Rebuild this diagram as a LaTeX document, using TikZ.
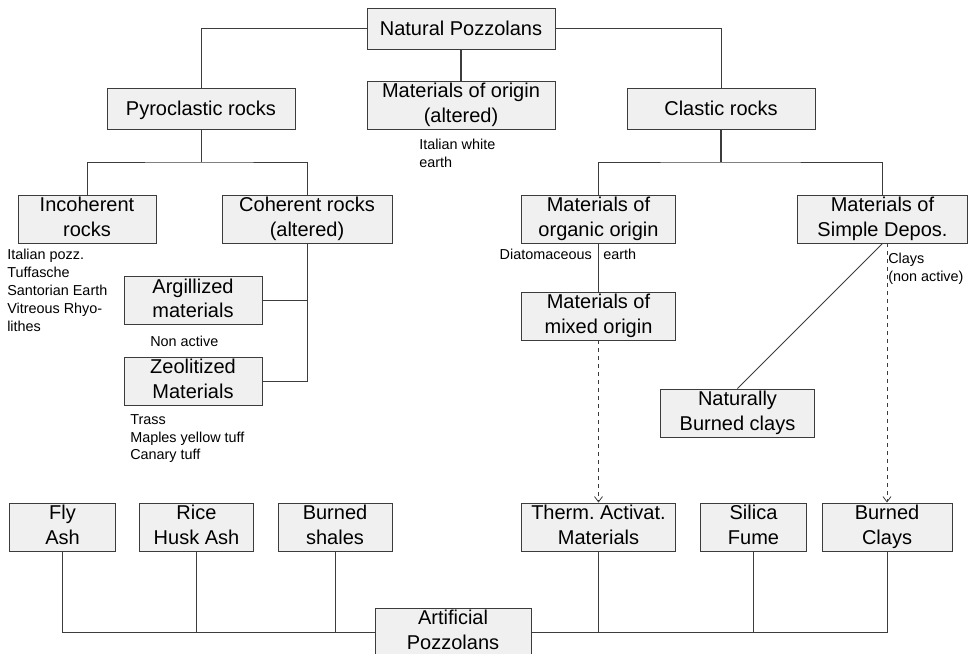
\documentclass[tikz,border=0pt]{standalone}
\usepackage{fontspec}
\setmainfont{Liberation Sans}
\usetikzlibrary{arrows.meta, positioning}
\definecolor{box-gray}{HTML}{F0F0F0}
\definecolor{line-gray}{HTML}{3C3C3C}
\frenchspacing

\begin{document}
\begin{tikzpicture}[
    x=0.75pt, y=-0.75pt,
    box/.style={draw=line-gray, line width=0.7pt, fill=box-gray, align=center, inner sep=0pt,
        minimum height=36pt, font=\fontsize{15}{18.3}\selectfont,
        execute at begin node={\rule{0pt}{14.2pt}}, execute at end node={\rule[-3.3pt]{0pt}{3.3pt}}},
    note/.style={align=left, inner sep=0pt, font=\fontsize{10.8}{13.4}\selectfont},
    link/.style={line-gray, line width=0.7pt},
    trunk/.style={line-gray, line width=1.3pt},
    dasharrow/.style={line-gray, line width=0.6pt, dashed, -{Straight Barb[length=4pt, width=6pt]}}
]
    \useasboundingbox (0,0) rectangle (969,653);

    % natural pozzolans
    \node[box, minimum width=141pt, minimum height=30.75pt] (nat) at (461,28.5) {Natural Pozzolans};
    \node[box, minimum width=141pt, minimum height=30.75pt] (pyro) at (201,108.5) {Pyroclastic rocks};
    \node[box, minimum width=141pt] (orig) at (461,105) {Materials of origin\\(altered)};
    \node[box, minimum width=141pt, minimum height=30.75pt] (clas) at (721,108.5) {Clastic rocks};
    \node[note, anchor=north west] (origtxt) at (419,139) {Italian white\\earth};

    \node[box, minimum width=103.5pt] (incoh) at (87,219) {Incoherent\\rocks};
    \node[box, minimum width=127.5pt] (coh) at (307,219) {Coherent rocks\\(altered)};
    \node[box, minimum width=103.5pt] (argil) at (193,300.5) {Argillized\\materials};
    \node[box, minimum width=103.5pt] (zeo) at (193,381) {Zeolitized\\Materials};
    \node[note, anchor=north west] (incohtxt) at (7,249) {Italian pozz.\\Tuffasche\\Santorian Earth\\Vitreous Rhyo-\\lithes};
    \node[note, anchor=west] (argiltxt) at (150,341) {Non active};
    \node[note, anchor=north west] (zeotxt) at (130,414) {Trass\\Maples yellow tuff\\Canary tuff};

    \node[box, minimum width=116pt] (organic) at (598.5,219) {Materials of\\organic origin};
    \node[box, minimum width=116pt] (mixed) at (598.5,316) {Materials of\\mixed origin};
    \node[box, minimum width=128pt] (simple) at (882.5,219) {Materials of\\Simple Depos.};
    \node[box, minimum width=116pt] (natburn) at (737.5,413) {Naturally\\Burned clays};
    \node[note, anchor=east] (diat) at (592,254) {Diatomaceous};
    \node[note, anchor=west] (diat2) at (603,254) {earth};
    \node[note, anchor=north west] (claytxt) at (888,253) {Clays\\(non active)};

    % artificial pozzolans
    \node[box, minimum width=80pt] (fly) at (62.5,527) {Fly\\Ash};
    \node[box, minimum width=86pt] (rice) at (196.5,527) {Rice\\Husk Ash};
    \node[box, minimum width=85.5pt] (shales) at (335,527) {Burned\\shales};
    \node[box, minimum width=116pt] (therm) at (598.5,527) {Therm. Activat.\\Materials};
    \node[box, minimum width=79pt] (silica) at (753.5,527) {Silica\\Fume};
    \node[box, minimum width=97.5pt] (bclays) at (887,527) {Burned\\Clays};
    \node[box, minimum width=117pt] (art) at (453,632) {Artificial\\Pozzolans};

    \coordinate (pyrobus) at (201,162);
    \coordinate (clasbus) at (721,162);

    % tree links
    \draw[link] (nat.west) -| (pyro.north);
    \draw[link] (nat.east) -| (clas.north);
    \draw[trunk] (nat) -- (orig);
    \draw[link] (pyro) -- (pyrobus);
    \draw[link] (incoh.north) |- (pyrobus) -| (coh.north);
    \draw[link] (coh.south) |- (zeo.east);
    \draw[link] (argil.east) -| (coh.south);
    \draw[trunk] (clas) -- (clasbus);
    \draw[link] (organic.north) |- (clasbus) -| (simple.north);
    \draw[trunk] (organic) -- (mixed);
    \draw[link] (simple.south) -- (natburn.north);
    \draw[dasharrow] (mixed) -- (therm);
    \draw[dasharrow] (bclays.north |- simple.south) -- (bclays.north);

    % bus to artificial pozzolans
    \draw[link] (fly.south) |- (art.west);
    \draw[link] (rice.south) -- (rice.south |- art.west);
    \draw[link] (shales.south) -- (shales.south |- art.west);
    \draw[link] (bclays.south) |- (art.east);
    \draw[link] (therm.south) -- (therm.south |- art.east);
    \draw[link] (silica.south) -- (silica.south |- art.east);
\end{tikzpicture}
\end{document}
